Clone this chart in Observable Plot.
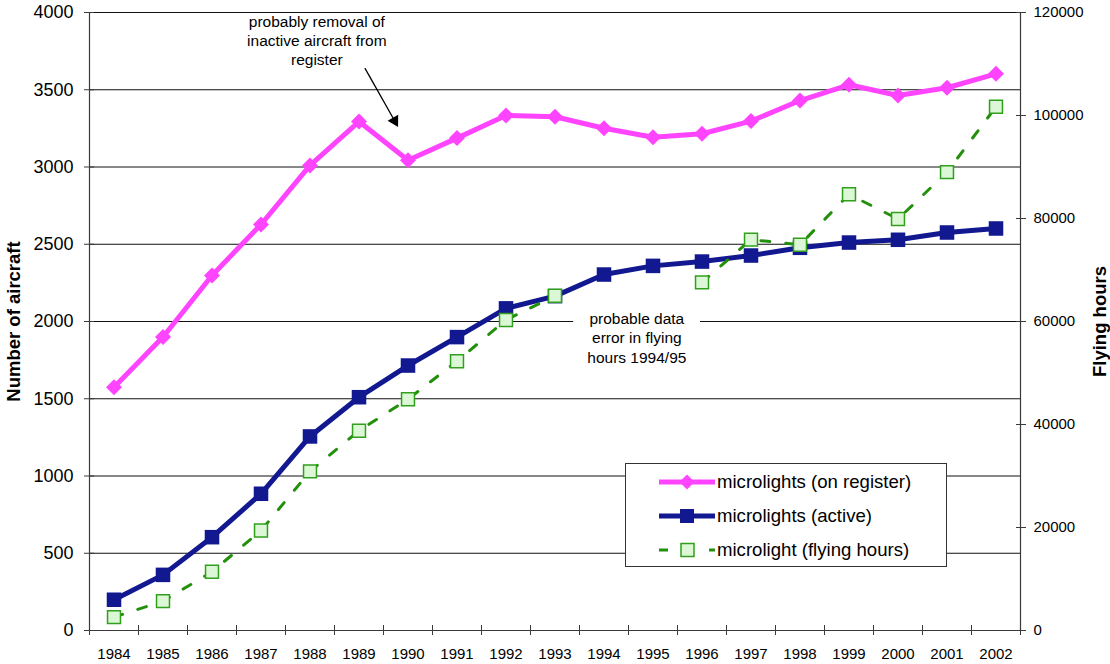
<!DOCTYPE html>
<html>
<head>
<meta charset="utf-8">
<script src="https://cdn.jsdelivr.net/npm/d3@7"></script>
<script src="https://cdn.jsdelivr.net/npm/@observablehq/plot@0.6"></script>
<style>
  body { margin: 0; background: #fff; font-family: "Liberation Sans", Arial, sans-serif; }
  #wrap { position: relative; width: 1110px; height: 664px; overflow: hidden; background: #fff; }
  #legend { position: absolute; left: 625px; top: 463px; width: 322px; height: 104px; box-sizing: border-box;
            background: #fff; border: 1px solid #333; }
  .lrow { position: absolute; left: 33px; height: 20px; display: flex; align-items: center; white-space: nowrap;
          font-size: 18.6px; color: #000; }
  .lrow svg { display: block; margin-right: 2px; }
</style>
</head>
<body>
<div id="wrap"><div id="legend"></div></div>
<script>
// ---- data ----
const years = [1984, 1985, 1986, 1987, 1988, 1989, 1990, 1991, 1992, 1993, 1994, 1995, 1996, 1997, 1998, 1999, 2000, 2001, 2002];
const onRegister = [1575, 1900, 2298, 2628, 3010, 3294, 3044, 3187, 3333, 3325, 3251, 3193, 3215, 3297, 3430, 3532, 3463, 3513, 3603];
const active = [199, 360, 604, 885, 1256, 1510, 1715, 1899, 2085, 2164, 2304, 2360, 2388, 2427, 2477, 2511, 2529, 2576, 2602];
const flyingHours = [2600, 5700, 11400, 19400, 30900, 38800, 44900, 52300, 60300, 65000, null, null, 67600, 75900, 74900, 84700, 79900, 89000, 101700];
const leftTicks = [0, 500, 1000, 1500, 2000, 2500, 3000, 3500, 4000];
const rightTicks = [0, 20000, 40000, 60000, 80000, 100000, 120000];
const seriesNames = ["microlights (on register)", "microlights (active)", "microlight (flying hours)"];
const seriesColors = ["#ff44ff", "#121990", "#23900c"];
const hoursFill = "#dcf7d5";
const hoursStroke = "#30a01c";
const noteTopText = "probably removal of\ninactive aircraft from\nregister";
const noteMidText = "probable data\nerror in flying\nhours 1994/95";
// right axis: 120000 hours corresponds to 4000 aircraft
const hoursRatio = rightTicks[rightTicks.length - 1] / leftTicks[leftTicks.length - 1];

const rows = years.map((yr, i) => ({year: yr, reg: onRegister[i], act: active[i], hrs: flyingHours[i]}));
const boundaries = years.map(y => y - 0.5).concat([years[years.length - 1] + 0.5]);
const x0 = boundaries[0], x1 = boundaries[boundaries.length - 1];

// annotation anchors (in data units)
const noteTop = {x: 1988.14, y: 3823};
const arrowTail = {x: 1989.12, y: 3640};
const arrowHead = {x: 1989.727, y: 3299};
const noteMid = {x: 1994.67, y: 1898};
const noteMidBox = {x1: 1993.38, x2: 1995.97, y1: 1845, y2: 2097};

const font = '"Liberation Sans", Arial, sans-serif';

const chart = Plot.plot({
  width: 1110,
  height: 664,
  marginLeft: 89,
  marginRight: 90,
  marginTop: 12,
  marginBottom: 34,
  style: {fontFamily: font, fontSize: "15px", background: "#fff", color: "#000", overflow: "visible"},
  x: {type: "linear", domain: [x0, x1], axis: null},
  y: {type: "linear", domain: [leftTicks[0], leftTicks[leftTicks.length - 1]], axis: null},
  marks: [
    // gridlines
    Plot.ruleY(leftTicks.filter(d => d > 0), {stroke: "#111", strokeWidth: 1}),
    // white box behind middle note
    Plot.rect([noteMidBox], {x1: "x1", x2: "x2", y1: "y1", y2: "y2", fill: "#fff"}),
    // axis lines
    Plot.ruleY([0], {stroke: "#3a3a3a", strokeWidth: 1.2}),
    Plot.ruleX([x0, x1], {stroke: "#3a3a3a", strokeWidth: 1.2}),
    // left axis
    Plot.axisY(leftTicks, {anchor: "left", tickSize: 10, dx: 5, tickPadding: 11, fontSize: 18,
      tickFormat: d => String(d), stroke: "#3a3a3a"}),
    // right axis (flying hours)
    Plot.axisY(rightTicks.map(h => h / hoursRatio), {anchor: "right", tickSize: 10, dx: -5, tickPadding: 8, fontSize: 15,
      tickFormat: d => String(Math.round(d * hoursRatio)), stroke: "#3a3a3a"}),
    // bottom axis ticks between categories
    Plot.axisX(boundaries, {anchor: "bottom", tickSize: 10, dy: -5, tickFormat: () => "", stroke: "#3a3a3a"}),
    // bottom axis labels
    Plot.axisX(years, {anchor: "bottom", tickSize: 0, tickPadding: 18, fontSize: 15, tickFormat: d => String(d)}),
    // axis titles
    Plot.text(["Number of aircraft"], {text: d => d, frameAnchor: "left", textAnchor: "middle", lineAnchor: "middle",
      rotate: -90, dx: -75, fontWeight: "bold", fontSize: 18.5}),
    Plot.text(["Flying hours"], {text: d => d, frameAnchor: "right", textAnchor: "middle", lineAnchor: "middle",
      rotate: -90, dx: 80, fontWeight: "bold", fontSize: 18.5}),
    // annotations
    Plot.text([noteTop], {x: "x", y: "y", text: () => noteTopText, fontSize: 15.5, lineHeight: 1.25}),
    Plot.link([{a: arrowTail, b: arrowHead}], {x1: d => d.a.x, y1: d => d.a.y, x2: d => d.b.x, y2: d => d.b.y,
      stroke: "#000", strokeWidth: 1.3}),
    Plot.dot([arrowHead], {x: "x", y: "y", symbol: "triangle", r: 4.5, fill: "#000", stroke: "none", rotate: 150.5}),
    Plot.text([noteMid], {x: "x", y: "y", text: () => noteMidText, fontSize: 15.5, lineHeight: 1.25}),
    // on register
    Plot.line(rows, {x: "year", y: "reg", stroke: seriesColors[0], strokeWidth: 5}),
    Plot.dot(rows, {x: "year", y: "reg", symbol: "diamond2", r: 7.2, fill: seriesColors[0], stroke: "none"}),
    // active
    Plot.line(rows, {x: "year", y: "act", stroke: seriesColors[1], strokeWidth: 5}),
    Plot.dot(rows, {x: "year", y: "act", symbol: "square", r: 8.2, fill: seriesColors[1], stroke: "none"}),
    // flying hours
    Plot.line(rows, {x: "year", y: d => d.hrs == null ? NaN : d.hrs / hoursRatio, stroke: seriesColors[2],
      strokeWidth: 3, strokeDasharray: "9,16"}),
    Plot.dot(rows.filter(d => d.hrs != null), {x: "year", y: d => d.hrs / hoursRatio, symbol: "square", r: 7.3,
      fill: hoursFill, stroke: hoursStroke, strokeWidth: 1.5})
  ]
});
document.getElementById("wrap").prepend(chart);

// legend
const legend = document.getElementById("legend");
const rowCenters = [18, 51.5, 86];
const swatch = (i) => {
  const c = seriesColors[i];
  if (i === 0) return `<svg width="56" height="20"><line x1="0" y1="10" x2="56" y2="10" stroke="${c}" stroke-width="5"/><path d="M28,2.5L35.5,10L28,17.5L20.5,10Z" fill="${c}"/></svg>`;
  if (i === 1) return `<svg width="56" height="20"><line x1="0" y1="10" x2="56" y2="10" stroke="${c}" stroke-width="5"/><rect x="21" y="3" width="14" height="14" fill="${c}"/></svg>`;
  return `<svg width="56" height="20"><line x1="0" y1="10" x2="56" y2="10" stroke="${c}" stroke-width="3" stroke-dasharray="9,16"/><rect x="22" y="3.5" width="13" height="13" fill="${hoursFill}" stroke="${hoursStroke}" stroke-width="1.5"/></svg>`;
};
seriesNames.forEach((name, i) => {
  const div = document.createElement("div");
  div.className = "lrow";
  div.style.top = (rowCenters[i] - 10) + "px";
  div.innerHTML = swatch(i) + `<span>${name}</span>`;
  legend.appendChild(div);
});
</script>
</body>
</html>
